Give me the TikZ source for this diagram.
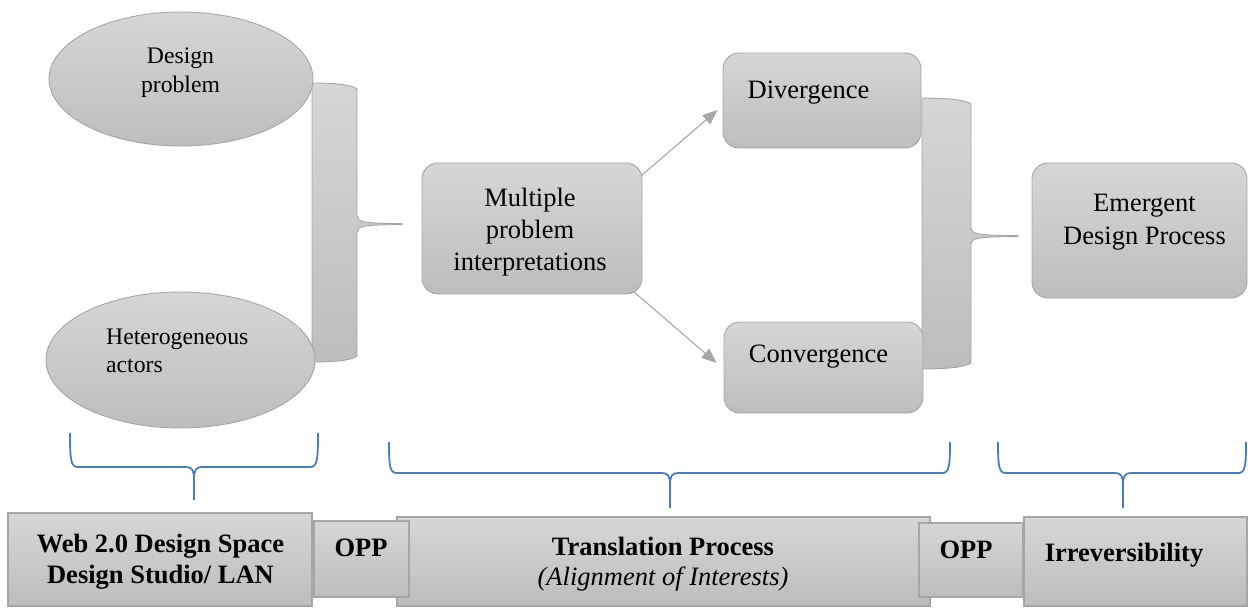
\documentclass[tikz,border=0pt]{standalone}
\usepackage{fontspec}
\setmainfont{LiberationSerif}[
  Extension=.ttf,
  UprightFont=*-Regular,
  BoldFont=*-Bold,
  ItalicFont=*-Italic,
  BoldItalicFont=*-BoldItalic]
\usetikzlibrary{shapes.geometric,arrows.meta}

\definecolor{gtop}{RGB}{214,214,214}
\definecolor{gbot}{RGB}{189,189,189}
\definecolor{edgegray}{RGB}{166,166,166}
\definecolor{arrgray}{RGB}{166,166,166}
\definecolor{braceblue}{RGB}{74,126,187}

% thin blue curly brace opening upwards, tip pointing down
% #1 left x, #2 right x, #3 tip x, #4 top y, #5 bar y, #6 tip end y
\newcommand{\ubrace}[6]{%
  \draw[bluebr] (#1,#4) .. controls (#1,#5-6) and (#1+1,#5) .. (#1+8,#5)
    -- (#3-8,#5) .. controls (#3-2,#5) and (#3,#5+3) .. (#3,#5+12) -- (#3,#6);
  \draw[bluebr] (#2,#4) .. controls (#2,#5-6) and (#2-1,#5) .. (#2-8,#5)
    -- (#3+8,#5) .. controls (#3+2,#5) and (#3,#5+3) .. (#3,#5+12);
}

\tikzset{
  shapebox/.style={draw=edgegray, line width=0.9pt, top color=gtop,
    bottom color=gbot, inner sep=0pt},
  oval/.style={shapebox, ellipse},
  roundbox/.style={shapebox, rectangle, rounded corners=16pt},
  flatbox/.style={shapebox, rectangle, line width=1.6pt},
  bigtxt/.style={font=\fontsize{26.5}{32}\selectfont, inner sep=0pt, align=center},
  smalltxt/.style={font=\fontsize{23.7}{29}\selectfont, inner sep=0pt},
  flow/.style={draw=arrgray, line width=1.1pt, -{Triangle[length=15pt,width=12pt]}},
  bluebr/.style={draw=braceblue, line width=1.8pt},
  greybr/.style={draw=edgegray, line width=0.9pt, top color=gtop, bottom color=gbot},
}

\begin{document}
\begin{tikzpicture}[x=1pt,y=-1pt]
\useasboundingbox (0,0) rectangle (1248,608);

% grey 3D braces joining the inputs
\path[greybr] (312,83) .. controls (338,83) and (352,85) .. (357,89)
  -- (357,216) .. controls (357,222) and (364,223.4) .. (402,223.6)
  -- (402,224.6) .. controls (364,224.8) and (357,226) .. (357,232)
  -- (357,356) .. controls (352,360) and (338,362) .. (312,362) -- cycle;
\path[greybr] (922,98) .. controls (948,98) and (966,100) .. (971,104)
  -- (971,228) .. controls (971,234) and (978,235.4) .. (1018,235.6)
  -- (1018,236.6) .. controls (978,236.8) and (971,238) .. (971,244)
  -- (971,363) .. controls (966,367) and (948,369) .. (922,369) -- cycle;

% inputs
\node[oval, minimum width=264pt, minimum height=134pt] (dp) at (181,79) {};
\node[smalltxt, align=center] (dpt) at (180.5,73) {Design\\problem};
\node[oval, minimum width=269pt, minimum height=136pt] (ha) at (180.5,360) {};
\node[smalltxt, align=left, anchor=west, font=\fontsize{23.7}{28.5}\selectfont]
  (hat) at (106,351) {Heterogeneous\\actors};

% process boxes
\node[roundbox, minimum width=220pt, minimum height=131pt] (mpi) at (532,228.5) {};
\node[bigtxt] (mpit) at (530,232) {Multiple\\problem\\interpretations};
\node[roundbox, minimum width=198pt, minimum height=95pt] (div) at (822,100.5) {};
\node[bigtxt, anchor=base] (divt) at (808.5,98) {Divergence};
\node[roundbox, minimum width=199pt, minimum height=91pt] (conv) at (823.5,367.5) {};
\node[bigtxt, anchor=base] (convt) at (818.5,362) {Convergence};
\node[roundbox, minimum width=215pt, minimum height=135pt] (emg) at (1139.5,230.5) {};
\node[bigtxt, font=\fontsize{26.5}{33}\selectfont] (emgt) at (1144.5,222.6)
  {Emergent\\Design Process};

% arrows
\draw[flow] ([xshift=-1pt,yshift=-13pt]mpi.north east) -- ([xshift=-5pt,yshift=-9.5pt]div.west);
\draw[flow] ([xshift=-9pt,yshift=3pt]mpi.south east) -- ([xshift=-7pt,yshift=4.5pt]conv.west);

% blue braces
\ubrace{70}{318}{194}{433}{467}{500}
\ubrace{389}{950}{670}{442}{473}{508}
\ubrace{998}{1246}{1123}{442}{473}{508}

% bottom stages
\node[flatbox, minimum width=304pt, minimum height=93pt] (web) at (160,559.5) {};
\node[bigtxt, font=\fontsize{26.5}{31}\bfseries] (webt) at (160.5,562)
  {Web 2.0 Design Space\\Design Studio/ LAN};
\node[flatbox, minimum width=533pt, minimum height=89pt] (trans) at (663.5,561.5) {};
\node[bigtxt, font=\fontsize{26.5}{30.5}\selectfont] (transt) at (663,564)
  {\textbf{Translation Process}\\\textit{(Alignment of Interests)}};
\node[flatbox, minimum width=95pt, minimum height=76pt] (opp1) at (361.5,559) {};
\node[bigtxt, anchor=base, font=\fontsize{26.5}{32}\bfseries] (opp1t) at (361,556.5) {OPP};
\node[flatbox, minimum width=104pt, minimum height=74pt] (opp2) at (971,560) {};
\node[bigtxt, anchor=base, font=\fontsize{26.5}{32}\bfseries] (opp2t) at (966,558.3) {OPP};
\node[flatbox, minimum width=223pt, minimum height=89pt] (irr) at (1135.5,561.5) {};
\node[bigtxt, anchor=base, font=\fontsize{26.5}{32}\bfseries] (irrt) at (1124,561.7) {Irreversibility};
\end{tikzpicture}
\end{document}
